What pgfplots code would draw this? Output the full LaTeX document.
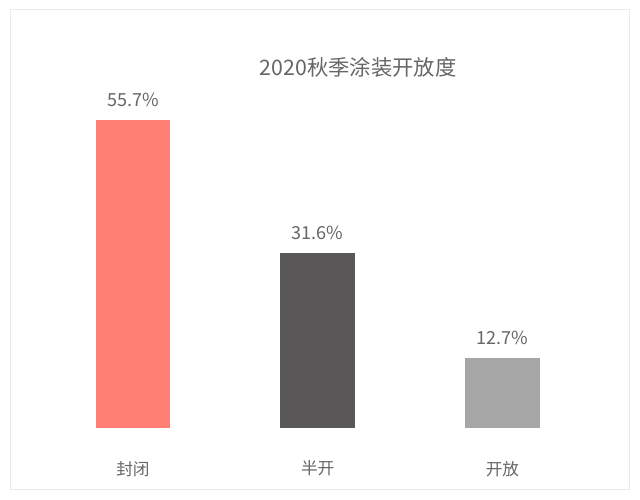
\documentclass[border=0pt]{standalone}
\usepackage{pgfplots}
\pgfplotsset{compat=1.18}
\usepackage{fontspec}
\setmainfont{Noto Sans CJK SC}
\definecolor{salmon}{HTML}{FF7F75}
\definecolor{darkbar}{HTML}{5A5758}
\definecolor{lightbar}{HTML}{A6A6A6}
\definecolor{txt}{HTML}{666666}
\definecolor{frame}{HTML}{EBEBEB}
\begin{document}
\begin{tikzpicture}
% canvas 640x500 px, 1px = 0.75pt
\fill[white] (0,0) rectangle (480pt,375pt);
\useasboundingbox (0,0) rectangle (480pt,375pt);
\draw[frame, line width=0.75pt] (7.5pt,7.5pt) rectangle (471.75pt,367.5pt);
\node[text=txt, font=\fontsize{16pt}{19pt}\selectfont] at (268.5pt,324.75pt) {2020秋季涂装开放度};
\begin{axis}[
  at={(30.45pt,54pt)}, anchor=south west,
  scale only axis, width=415.7pt, height=290.25pt,
  xmin=-0.5, xmax=2.5, ymin=0, ymax=70,
  axis line style={draw=none}, major tick style={draw=none},
  ytick=\empty,
  xtick={0,1,2}, xticklabels={封闭,半开,开放},
  xticklabel style={anchor=center, yshift=-26.25pt, text=txt, font=\fontsize{12.5pt}{15pt}\selectfont},
  ybar, bar width=56pt, bar shift=0pt,
  point meta=explicit symbolic,
  nodes near coords,
  nodes near coords style={anchor=center, yshift=15pt, text=txt, font=\fontsize{13.5pt}{16pt}\selectfont},
  clip=false,
]
\addplot[fill=salmon, draw=none] coordinates {(0,55.7) [55.7\%]};
\addplot[fill=darkbar, draw=none] coordinates {(1,31.6) [31.6\%]};
\addplot[fill=lightbar, draw=none] coordinates {(2,12.7) [12.7\%]};
\end{axis}
\end{tikzpicture}
\end{document}
